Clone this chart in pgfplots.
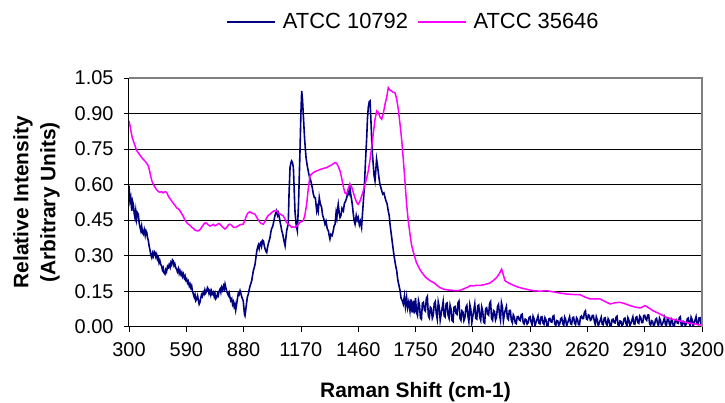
\documentclass[border=0pt]{standalone}
\usepackage{pgfplots}
\pgfplotsset{compat=1.18}
\usepackage{fontspec}
\setmainfont{Liberation Sans}
\definecolor{navy}{RGB}{0,0,128}
\definecolor{mag}{RGB}{255,0,255}
\definecolor{frame}{RGB}{128,128,128}

\begin{document}
\begin{tikzpicture}
\begin{axis}[
    at={(0,0)}, anchor=south west,
    scale only axis, width=573bp, height=248.7bp,
    xmin=300, xmax=3200, ymin=0, ymax=1.05,
    xtick={300,590,880,1170,1460,1750,2040,2330,2620,2910,3200},
    ytick={0,0.15,0.3,0.45,0.6,0.75,0.9,1.05},
    axis lines*=left,
    axis line style={black, line width=1bp},
    ymajorgrids=true,
    grid style={black, line width=0.8bp},
    tick align=outside, major tick length=5bp,
    tick style={black, line width=0.8bp},
    tick label style={font=\fontsize{20}{22}\selectfont},
    /pgf/number format/assume math mode=true,
    xticklabel style={/pgf/number format/1000 sep={}, yshift=-7bp},
    yticklabel style={/pgf/number format/fixed, /pgf/number format/fixed zerofill, /pgf/number format/precision=2, xshift=-7bp},
    legend style={at={(rel axis cs:0.5,1)}, anchor=center, xshift=-2bp, yshift=56bp, draw=none, fill=none,
        legend columns=2, font=\fontsize{22}{24}\selectfont,
        /tikz/every even column/.append style={column sep=7bp}},
    legend image code/.code={\draw[#1] (0bp,0bp) -- (48bp,0bp); \path (53bp,0bp);},
]

% ATCC 10792
\addplot[color=navy, line width=1.6bp] coordinates {
(300,0.595) (303,0.560) (305,0.531) (309,0.545) (314,0.489) (318,0.530) (322,0.517) (326,0.480)
(330,0.461) (334,0.490) (338,0.455) (342,0.482) (347,0.475) (351,0.440) (356,0.419) (360,0.405)
(364,0.425) (368,0.398) (372,0.391) (377,0.410) (382,0.385) (386,0.405) (390,0.398) (394,0.375)
(398,0.363) (402,0.340) (406,0.325) (410,0.305) (415,0.292) (419,0.310) (423,0.298) (428,0.318)
(432,0.313) (436,0.295) (440,0.305) (444,0.285) (448,0.292) (452,0.270) (456,0.280) (461,0.262)
(465,0.257) (469,0.240) (473,0.248) (477,0.228) (482,0.222) (486,0.240) (490,0.232) (495,0.255)
(499,0.250) (503,0.262) (508,0.250) (512,0.270) (516,0.262) (520,0.282) (524,0.278) (528,0.258)
(532,0.265) (537,0.248) (541,0.243) (545,0.232) (550,0.245) (554,0.225) (558,0.236) (563,0.220)
(567,0.229) (571,0.212) (575,0.222) (580,0.205) (584,0.214) (588,0.196) (592,0.201) (596,0.185)
(600,0.192) (605,0.172) (609,0.180) (613,0.165) (617,0.173) (621,0.150) (625,0.140) (630,0.125)
(634,0.135) (638,0.110) (643,0.117) (647,0.130) (651,0.112) (655,0.095) (659,0.103) (663,0.120)
(667,0.135) (671,0.128) (676,0.145) (680,0.138) (684,0.155) (688,0.142) (693,0.150) (697,0.165)
(701,0.159) (705,0.140) (710,0.152) (714,0.135) (718,0.150) (722,0.138) (727,0.145) (731,0.128)
(735,0.140) (739,0.118) (744,0.124) (748,0.140) (752,0.132) (756,0.150) (761,0.159) (765,0.145)
(769,0.165) (773,0.155) (778,0.172) (782,0.160) (786,0.180) (790,0.165) (794,0.150) (799,0.140)
(803,0.132) (807,0.142) (811,0.124) (815,0.110) (820,0.118) (824,0.095) (828,0.105) (832,0.085)
(836,0.096) (840,0.070) (844,0.090) (849,0.120) (853,0.140) (857,0.135) (862,0.152) (866,0.140)
(870,0.128) (874,0.118) (878,0.110) (882,0.075) (885,0.050) (887,0.046) (890,0.065) (895,0.100)
(899,0.125) (904,0.138) (908,0.155) (912,0.170) (916,0.180) (921,0.194) (925,0.215) (929,0.235)
(934,0.250) (938,0.264) (942,0.290) (947,0.321) (951,0.335) (955,0.345) (959,0.330) (963,0.349)
(967,0.355) (971,0.340) (976,0.365) (980,0.363) (984,0.345) (988,0.330) (993,0.318) (997,0.313)
(1001,0.335) (1005,0.350) (1010,0.365) (1014,0.377) (1018,0.400) (1022,0.415) (1026,0.420) (1030,0.433)
(1035,0.455) (1039,0.470) (1043,0.480) (1047,0.489) (1052,0.470) (1056,0.480) (1061,0.461) (1065,0.440)
(1069,0.425) (1073,0.405) (1077,0.395) (1081,0.377) (1085,0.360) (1090,0.342) (1094,0.375) (1098,0.405)
(1102,0.420) (1106,0.433) (1110,0.560) (1115,0.672) (1119,0.690) (1123,0.700) (1127,0.695) (1132,0.672)
(1136,0.580) (1140,0.489) (1146,0.430) (1152,0.405) (1158,0.520) (1165,0.728) (1170,0.900) (1174,0.995)
(1178,0.960) (1182,0.897) (1189,0.790) (1196,0.714) (1202,0.680) (1207,0.658) (1214,0.630) (1220,0.616)
(1227,0.590) (1233,0.560) (1238,0.545) (1243,0.545) (1250,0.489) (1254,0.505) (1258,0.489) (1263,0.545)
(1268,0.520) (1275,0.503) (1280,0.470) (1286,0.455) (1292,0.433) (1297,0.445) (1303,0.415) (1309,0.405)
(1313,0.385) (1317,0.370) (1322,0.390) (1328,0.385) (1334,0.405) (1338,0.425) (1343,0.433) (1348,0.480)
(1352,0.460) (1356,0.500) (1359,0.517) (1364,0.480) (1368,0.461) (1373,0.470) (1378,0.500) (1385,0.489)
(1390,0.520) (1396,0.530) (1402,0.545) (1408,0.570) (1413,0.560) (1418,0.588) (1422,0.560) (1426,0.540)
(1430,0.517) (1436,0.470) (1440,0.445) (1444,0.433) (1450,0.470) (1455,0.450) (1460,0.461) (1466,0.430)
(1471,0.445) (1477,0.419) (1482,0.480) (1487,0.540) (1491,0.588) (1497,0.700) (1503,0.798) (1507,0.880)
(1511,0.925) (1516,0.950) (1520,0.953) (1524,0.880) (1528,0.798) (1532,0.730) (1536,0.686) (1540,0.640)
(1545,0.616) (1549,0.660) (1553,0.707) (1558,0.680) (1562,0.650) (1565,0.630) (1570,0.600) (1574,0.590)
(1579,0.574) (1584,0.560) (1590,0.565) (1596,0.545) (1601,0.530) (1606,0.520) (1612,0.489) (1617,0.470)
(1621,0.433) (1626,0.400) (1632,0.360) (1638,0.321) (1643,0.290) (1649,0.260) (1655,0.236) (1660,0.200)
(1666,0.175) (1672,0.152) (1677,0.120) (1683,0.110) (1688,0.096) (1694,0.130) (1699,0.085) (1705,0.124)
(1710,0.080) (1716,0.105) (1722,0.067) (1727,0.115) (1733,0.060) (1739,0.110) (1744,0.055)
(1750,0.121) (1755,0.062) (1760,0.048) (1765,0.110) (1770,0.092) (1775,0.037) (1780,0.032) (1785,0.099)
(1790,0.103) (1795,0.071) (1800,0.066) (1805,0.120) (1810,0.128) (1815,0.046) (1820,0.037) (1825,0.082)
(1830,0.077) (1835,0.036) (1840,0.049) (1845,0.098) (1850,0.106) (1855,0.057) (1860,0.033) (1865,0.105)
(1870,0.084) (1875,0.028) (1880,0.055) (1885,0.079) (1890,0.106) (1895,0.046) (1900,0.041) (1905,0.097)
(1910,0.100) (1915,0.048) (1920,0.035) (1925,0.091) (1930,0.074) (1935,0.026) (1940,0.022) (1945,0.082)
(1950,0.085) (1955,0.057) (1960,0.052) (1965,0.100) (1970,0.108) (1975,0.036) (1980,0.027) (1985,0.067)
(1990,0.062) (1995,0.026) (2000,0.038) (2005,0.082) (2010,0.090) (2015,0.046) (2020,0.021) (2025,0.093)
(2030,0.073) (2035,0.017) (2040,0.045) (2045,0.069) (2050,0.096) (2055,0.036) (2060,0.032) (2065,0.088)
(2070,0.092) (2075,0.040) (2080,0.027) (2085,0.083) (2090,0.067) (2095,0.019) (2100,0.015) (2105,0.076)
(2110,0.080) (2115,0.053) (2120,0.049) (2125,0.098) (2130,0.106) (2135,0.035) (2140,0.027) (2145,0.068)
(2150,0.064) (2155,0.028) (2160,0.040) (2165,0.085) (2170,0.094) (2175,0.051) (2180,0.028) (2185,0.101)
(2190,0.082) (2195,0.026) (2200,0.054) (2205,0.071) (2210,0.085) (2215,0.036) (2220,0.030) (2225,0.069)
(2230,0.069) (2235,0.028) (2240,0.017) (2245,0.050) (2250,0.041) (2255,0.016) (2260,0.013) (2265,0.042)
(2270,0.043) (2275,0.029) (2280,0.026) (2285,0.050) (2290,0.053) (2295,0.017) (2300,0.012) (2305,0.032)
(2310,0.029) (2315,0.011) (2320,0.017) (2325,0.039) (2330,0.042) (2335,0.020) (2340,0.008) (2345,0.044)
(2350,0.033) (2355,0.005) (2360,0.019) (2365,0.031) (2370,0.045) (2375,0.015) (2380,0.012) (2385,0.040)
(2390,0.042) (2395,0.016) (2400,0.010) (2405,0.038) (2410,0.030) (2415,0.006) (2420,0.003) (2425,0.033)
(2430,0.035) (2435,0.021) (2440,0.019) (2445,0.043) (2450,0.047) (2455,0.011) (2460,0.006) (2465,0.026)
(2470,0.024) (2475,0.006) (2480,0.012) (2485,0.034) (2490,0.038) (2495,0.016) (2500,0.004) (2505,0.040)
(2510,0.030) (2515,0.003) (2520,0.016) (2525,0.028) (2530,0.042) (2535,0.012) (2540,0.010) (2545,0.038)
(2550,0.040) (2555,0.015) (2560,0.009) (2565,0.038) (2570,0.031) (2575,0.009) (2580,0.008) (2585,0.041)
(2590,0.045) (2595,0.034) (2600,0.034) (2605,0.061) (2610,0.067) (2615,0.033) (2620,0.030) (2625,0.050)
(2630,0.047) (2635,0.027) (2640,0.030) (2645,0.048) (2650,0.048) (2655,0.023) (2660,0.008) (2665,0.042)
(2670,0.030) (2675,0.003) (2680,0.015) (2685,0.027) (2690,0.040) (2695,0.010) (2700,0.008) (2705,0.036)
(2710,0.038) (2715,0.012) (2720,0.006) (2725,0.034) (2730,0.026) (2735,0.003) (2740,0.003) (2745,0.030)
(2750,0.032) (2755,0.018) (2760,0.016) (2765,0.040) (2770,0.044) (2775,0.008) (2780,0.004) (2785,0.024)
(2790,0.022) (2795,0.004) (2800,0.010) (2805,0.032) (2810,0.036) (2815,0.014) (2820,0.003) (2825,0.038)
(2830,0.028) (2835,0.003) (2840,0.014) (2845,0.027) (2850,0.041) (2855,0.012) (2860,0.010) (2865,0.039)
(2870,0.042) (2875,0.018) (2880,0.014) (2885,0.045) (2890,0.039) (2895,0.017) (2900,0.017) (2905,0.047)
(2910,0.048) (2915,0.032) (2920,0.027) (2925,0.049) (2930,0.050) (2935,0.012) (2940,0.006) (2945,0.025)
(2950,0.022) (2955,0.004) (2960,0.009) (2965,0.031) (2970,0.035) (2975,0.013) (2980,0.003) (2985,0.036)
(2990,0.026) (2995,0.003) (3000,0.012) (3005,0.024) (3010,0.038) (3015,0.008) (3020,0.006) (3025,0.034)
(3030,0.036) (3035,0.010) (3040,0.004) (3045,0.032) (3050,0.024) (3055,0.003) (3060,0.003) (3065,0.028)
(3070,0.030) (3075,0.016) (3080,0.014) (3085,0.038) (3090,0.042) (3095,0.007) (3100,0.003) (3105,0.023)
(3110,0.021) (3115,0.004) (3120,0.010) (3125,0.032) (3130,0.036) (3135,0.015) (3140,0.003) (3145,0.040)
(3150,0.030) (3155,0.003) (3160,0.016) (3165,0.028) (3170,0.042) (3175,0.011) (3180,0.009) (3185,0.037)
(3190,0.038) (3195,0.012) (3200,0.006)
};
\addlegendentry{ATCC 10792}

% ATCC 35646
\addplot[color=mag, line width=1.5bp] coordinates {
(300,0.869) (306,0.845) (311,0.820) (316,0.800) (322,0.785) (330,0.765) (338,0.745) (346,0.735)
(355,0.725) (363,0.715) (372,0.707) (380,0.700) (389,0.690) (398,0.679) (405,0.655) (410,0.635)
(416,0.615) (423,0.602) (431,0.590) (440,0.578) (448,0.571) (456,0.568) (465,0.570) (473,0.565)
(482,0.570) (491,0.567) (500,0.550) (508,0.540) (516,0.531) (525,0.520) (533,0.512) (541,0.502)
(550,0.497) (558,0.489) (566,0.478) (575,0.466) (583,0.450) (592,0.440) (600,0.433) (609,0.428)
(617,0.420) (626,0.415) (634,0.408) (643,0.405) (651,0.405) (659,0.410) (668,0.420) (676,0.430)
(684,0.438) (693,0.437) (701,0.430) (710,0.425) (718,0.428) (727,0.432) (735,0.426) (744,0.430)
(752,0.435) (761,0.433) (769,0.425) (778,0.418) (786,0.412) (795,0.420) (803,0.430) (811,0.433)
(820,0.428) (828,0.420) (836,0.419) (845,0.422) (853,0.426) (861,0.430) (870,0.432) (878,0.433)
(887,0.450) (895,0.470) (904,0.482) (912,0.485) (921,0.480) (929,0.478) (938,0.475) (946,0.462)
(955,0.450) (963,0.440) (971,0.435) (980,0.433) (988,0.445) (997,0.460) (1005,0.470) (1014,0.475)
(1022,0.482) (1031,0.488) (1039,0.490) (1048,0.489) (1056,0.480) (1064,0.476) (1072,0.472) (1081,0.468)
(1089,0.455) (1098,0.440) (1106,0.433) (1114,0.428) (1123,0.420) (1131,0.422) (1140,0.419) (1148,0.425)
(1157,0.432) (1165,0.440) (1174,0.445) (1182,0.447) (1190,0.470) (1199,0.517) (1207,0.580) (1216,0.637)
(1225,0.645) (1233,0.650) (1241,0.655) (1250,0.658) (1258,0.660) (1267,0.664) (1275,0.666) (1284,0.668)
(1292,0.670) (1301,0.672) (1309,0.676) (1318,0.680) (1326,0.683) (1334,0.688) (1343,0.693) (1351,0.690)
(1360,0.675) (1368,0.658) (1377,0.625) (1385,0.590) (1393,0.565) (1402,0.560) (1410,0.585) (1418,0.602)
(1427,0.590) (1435,0.567) (1443,0.545) (1452,0.525) (1460,0.517) (1469,0.530) (1477,0.550) (1486,0.574)
(1494,0.600) (1503,0.628) (1511,0.658) (1519,0.700) (1528,0.756) (1537,0.820) (1545,0.875) (1554,0.911)
(1562,0.905) (1570,0.885) (1579,0.876) (1587,0.900) (1596,0.940) (1604,0.967) (1612,1.009) (1620,1.000)
(1629,0.995) (1637,0.990) (1646,0.988) (1654,0.965) (1663,0.918) (1671,0.860) (1680,0.790) (1688,0.710)
(1697,0.610) (1705,0.517) (1713,0.450) (1722,0.391) (1730,0.345) (1739,0.315) (1747,0.292) (1755,0.270)
(1764,0.255) (1772,0.242) (1781,0.230) (1789,0.222) (1798,0.212) (1806,0.205) (1815,0.200) (1823,0.195)
(1832,0.190) (1840,0.187) (1849,0.182) (1857,0.176) (1866,0.170) (1874,0.165) (1883,0.162) (1891,0.159)
(1900,0.157) (1916,0.155) (1933,0.154) (1950,0.152) (1967,0.152) (1984,0.156) (2000,0.162) (2017,0.168)
(2026,0.173) (2043,0.172) (2060,0.175) (2077,0.174) (2094,0.177) (2110,0.180) (2127,0.185) (2144,0.195)
(2161,0.208) (2175,0.225) (2186,0.243) (2194,0.220) (2203,0.194) (2220,0.185) (2237,0.178) (2262,0.169)
(2287,0.163) (2312,0.158) (2346,0.152) (2380,0.150) (2414,0.152) (2448,0.147) (2481,0.142) (2515,0.138)
(2549,0.136) (2583,0.135) (2608,0.125) (2633,0.117) (2658,0.118) (2684,0.117) (2710,0.106) (2735,0.096)
(2760,0.101) (2785,0.103) (2810,0.097) (2836,0.089) (2861,0.083) (2886,0.079) (2900,0.084) (2911,0.089)
(2930,0.080) (2953,0.067) (2980,0.057) (3000,0.048) (3021,0.039) (3050,0.032) (3080,0.026) (3105,0.021)
(3130,0.016) (3160,0.012) (3198,0.007)
};
\addlegendentry{ATCC 35646}

\end{axis}
% plot area border (grey, top and right)
\draw[frame, line width=1.5bp] (0,248.7bp) -- (573bp,248.7bp) -- (573bp,0);
\node[rotate=90, align=center, font=\bfseries\fontsize{21}{27}\selectfont] at (-92.5bp,124.35bp)
    {Relative Intensity\\(Arbitrary Units)};
\node[anchor=base, font=\bfseries\fontsize{21}{24}\selectfont] at (286.5bp,-71bp) {Raman Shift (cm-1)};
\pgfresetboundingbox
\path (-129bp,-76.3bp) rectangle (596bp,326.7bp);
\end{tikzpicture}
\end{document}
